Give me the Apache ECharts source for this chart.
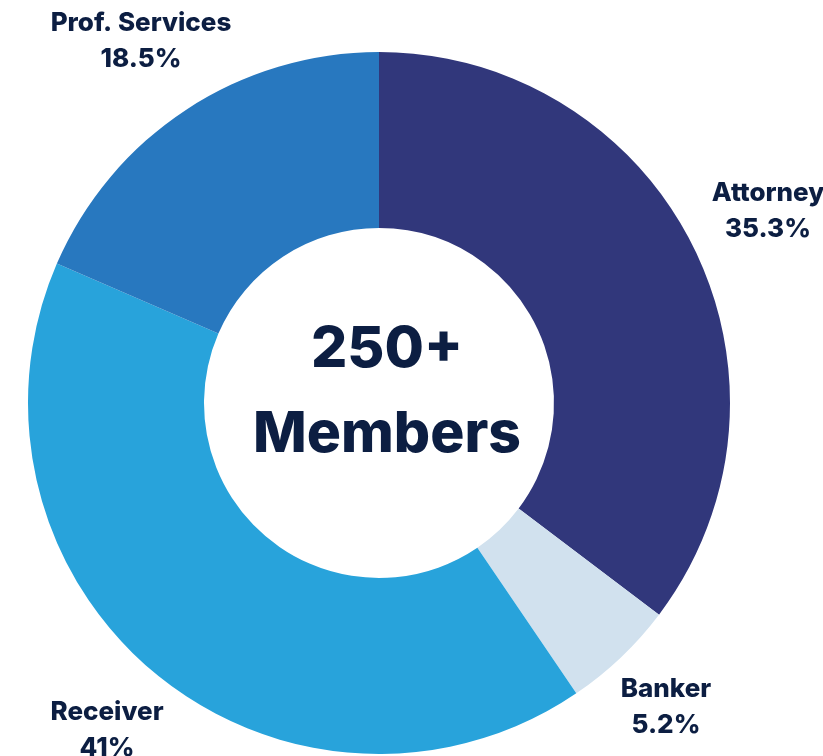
<!DOCTYPE html>
<html><head><meta charset="utf-8">
<script src="https://cdn.jsdelivr.net/npm/echarts@6/dist/echarts.min.js"></script>
<style>html,body{margin:0;padding:0;background:#fff;}#c{width:823px;height:756px;}</style>
</head><body><div id="c"></div>
<script>
var categories = ['Attorney', 'Banker', 'Receiver', 'Prof. Services'];
var shares = [35.3, 5.2, 41, 18.5];
var colors = ['#31377b', '#d1e1ee', '#28a3db', '#2878bf'];
var centerLines = ['250+', 'Members'];
var labelSpots = [[768, 211], [666, 707], [107, 730], [141, 41]];

var chart = echarts.init(document.getElementById('c'));
chart.setOption({
  animation: false,
  title: {
    text: centerLines.join('\n'),
    left: 382, top: 387, textAlign: 'center', textVerticalAlign: 'middle',
    textStyle: { fontFamily: 'Inter', fontWeight: 800, fontSize: 57, lineHeight: 85, color: '#0c1e42' }
  },
  series: [{
    type: 'pie',
    center: [379, 403],
    radius: [175, 351],
    startAngle: 90,
    clockwise: true,
    avoidLabelOverlap: false,
    label: {
      show: true,
      position: 'outside',
      formatter: function (p) { return p.name + '\n' + p.value + '%'; },
      fontFamily: 'Inter', fontWeight: 800, fontSize: 26, lineHeight: 36,
      color: '#0c1e42', align: 'center'
    },
    labelLine: { show: false },
    labelLayout: function (params) {
      var s = labelSpots[params.dataIndex];
      return { x: s[0], y: s[1], align: 'center', verticalAlign: 'middle' };
    },
    itemStyle: { borderWidth: 0 },
    data: categories.map(function (c, i) {
      return { name: c, value: shares[i], itemStyle: { color: colors[i] } };
    })
  }]
});
</script></body></html>
